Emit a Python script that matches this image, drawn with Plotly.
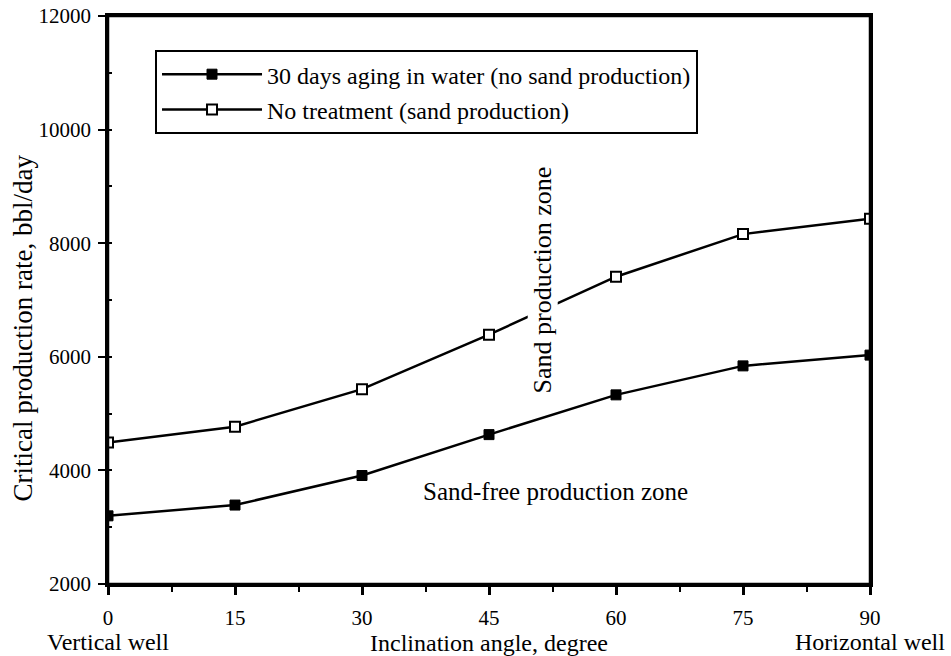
import plotly.graph_objects as go

angles = [0, 15, 30, 45, 60, 75, 90]
aged_30_days = [3200, 3390, 3910, 4630, 5330, 5840, 6030]
no_treatment = [4490, 4770, 5430, 6390, 7410, 8160, 8430]
x_ticks = [0, 15, 30, 45, 60, 75, 90]
y_ticks = [2000, 4000, 6000, 8000, 10000, 12000]
y_tick_text = ["2000", "4000", "6000", "8000", "10000", "12000"]

FONT = "Liberation Serif"

fig = go.Figure()
fig.add_trace(go.Scatter(
    x=angles, y=aged_30_days, mode="lines+markers",
    name="30 days aging in water (no sand production)", legendgroup="a",
    line=dict(color="black", width=2.5),
    marker=dict(symbol="square", size=10, color="black", line=dict(color="black", width=1)),
))
fig.add_trace(go.Scatter(
    x=angles, y=no_treatment, mode="lines+markers",
    name="No treatment (sand production)", legendgroup="b",
    line=dict(color="black", width=2.5),
    marker=dict(symbol="square", size=10, color="white", line=dict(color="black", width=2)),
))

fig.add_annotation(x=52.8, y=3620, text="Sand-free production zone", showarrow=False,
                   font=dict(family=FONT, size=25, color="black"))
fig.add_annotation(x=51.3, y=7350, text="Sand production zone", showarrow=False, textangle=-90,
                   bgcolor="white", borderpad=0, font=dict(family=FONT, size=26, color="black"))
fig.add_annotation(x=0, y=0, xref="x", yref="paper", yanchor="middle", yshift=-58,
                   text="Vertical well", showarrow=False,
                   font=dict(family=FONT, size=24, color="black"))
fig.add_annotation(x=90, y=0, xref="x", yref="paper", yanchor="middle", yshift=-58,
                   text="Horizontal well", showarrow=False,
                   font=dict(family=FONT, size=24, color="black"))
fig.add_annotation(x=-85 / 762, y=0.45, xref="paper", yref="paper", xanchor="center",
                   yanchor="middle", textangle=-90,
                   text="Critical production rate, bbl/day", showarrow=False,
                   font=dict(family=FONT, size=27, color="black"))

fig.add_shape(type="rect", xref="paper", yref="paper", x0=0, x1=1, y0=0, y1=1,
              line=dict(color="black", width=2.5), layer="above")

fig.update_layout(
    width=951, height=656,
    margin=dict(l=108, r=81, t=16, b=72, autoexpand=False),
    paper_bgcolor="white", plot_bgcolor="white",
    font=dict(family=FONT, size=20, color="black"),
    showlegend=True,
    legend=dict(x=0.0617, y=0.94, xanchor="left", yanchor="top",
                bordercolor="black", borderwidth=2, bgcolor="white",
                font=dict(family=FONT, size=24), itemwidth=100,
                entrywidth=565, tracegroupgap=1),
    xaxis=dict(range=[0, 90], tickvals=x_ticks, showgrid=False, zeroline=False, automargin=False,
               showline=True, linecolor="black", linewidth=2.5, mirror=True,
               ticks="outside", ticklen=8, tickwidth=2.5, tickcolor="black",
               ticklabelstandoff=5, ticklabeloverflow="allow",
               minor=dict(dtick=7.5, ticks="outside", ticklen=5, tickwidth=2, tickcolor="black"),
               tickfont=dict(family=FONT, size=21),
               title=dict(text="Inclination angle, degree", font=dict(family=FONT, size=24), standoff=6)),
    yaxis=dict(range=[2000, 12000], tickvals=y_ticks, ticktext=y_tick_text, showgrid=False,
               zeroline=False, automargin=False,
               showline=True, linecolor="black", linewidth=2.5, mirror=True,
               ticks="outside", ticklen=7, tickwidth=2, tickcolor="black",
               ticklabelstandoff=3, ticklabeloverflow="allow",
               minor=dict(dtick=1000, ticks="inside", ticklen=4, tickwidth=2, tickcolor="black"),
               tickfont=dict(family=FONT, size=21)),
)

fig.write_html("out.html", config={"displayModeBar": False},
               post_script="document.body.style.margin='0';document.body.style.overflow='hidden';")
